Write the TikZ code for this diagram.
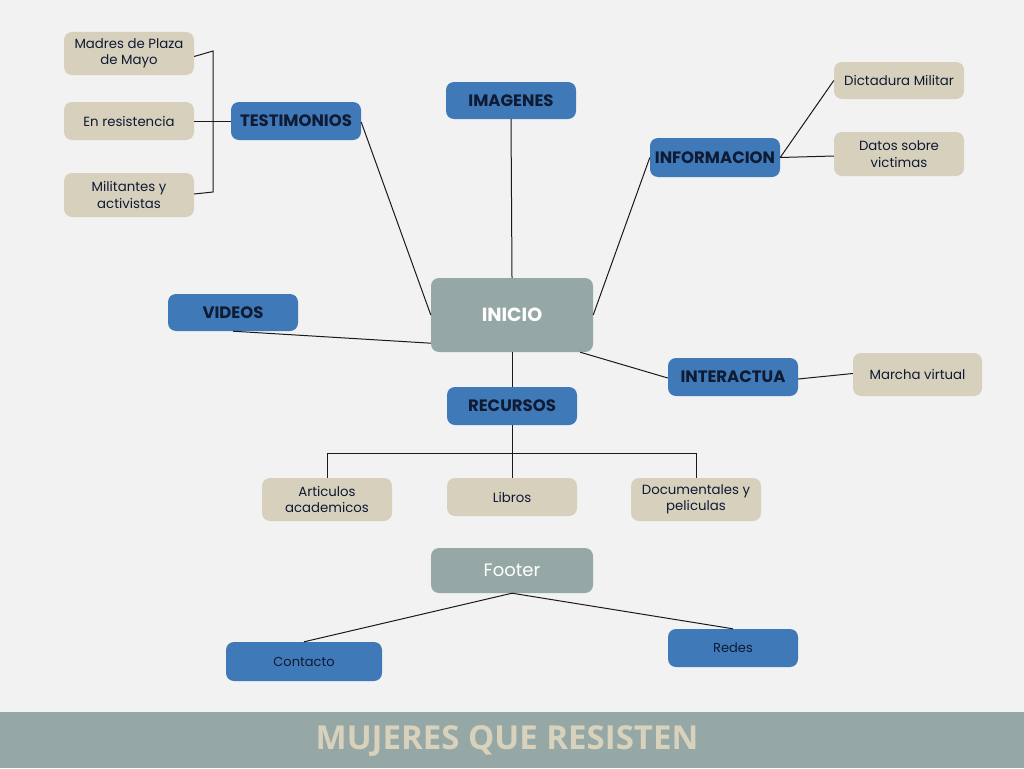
\documentclass[tikz,border=0pt]{standalone}
\usepackage{fontspec}
\setmainfont{Poppins}
\newfontfamily\titlefont{Open Sans}
\usetikzlibrary{calc}
\definecolor{bgc}{HTML}{F2F2F2}
\definecolor{bluec}{HTML}{3F79B8}
\definecolor{beigec}{HTML}{D6D0BC}
\definecolor{grayc}{HTML}{96A8A6}
\definecolor{navyc}{HTML}{0F1A33}
\definecolor{titlec}{HTML}{D8D1BC}
\definecolor{linec}{HTML}{1A1A1A}
\tikzset{
  box/.style={rectangle, rounded corners=8pt, inner sep=0pt, align=center},
  bluebox/.style={box, fill=bluec, text=navyc, font=\fontsize{16.5}{18}\selectfont\bfseries, minimum width=130pt, minimum height=38pt},
  beigebox/.style={box, fill=beigec, text=navyc, font=\fontsize{13.3}{16.5}\selectfont, minimum width=130pt, minimum height=38pt},
  graybox/.style={box, fill=grayc, text=white},
  smallblue/.style={box, fill=bluec, text=navyc, font=\fontsize{13}{15}\selectfont, minimum height=38pt},
  conn/.style={draw=linec, line width=1pt},
}
\begin{document}
\begin{tikzpicture}[x=1pt,y=-1pt]
\useasboundingbox (0,0) rectangle (1024,768);
\fill[bgc] (0,0) rectangle (1024,768);
\fill[grayc] (0,712) rectangle (1024,768);
\node[text=titlec, font=\fontsize{33}{35}\titlefont\bfseries] (title) at (507,741) {MUJERES QUE RESISTEN};

% main nodes
\node[graybox, minimum width=162pt, minimum height=74pt, font=\fontsize{19}{22}\selectfont\bfseries] (inicio) at (512,315) {INICIO};
\node[bluebox] (testi) at (296,121) {TESTIMONIOS};
\node[bluebox, minimum height=37pt] (imag) at (511,100.5) {IMAGENES};
\node[bluebox, minimum height=39pt] (info) at (715,157.5) {INFORMACION};
\node[bluebox, minimum height=37pt] (videos) at (233,312.5) {VIDEOS};
\node[bluebox] (inter) at (733,377) {INTERACTUA};
\node[bluebox] (recur) at (512,406) {RECURSOS};

% beige nodes
\node[beigebox, minimum height=43pt] (madres) at (129,53.5) {Madres de Plaza\\de Mayo};
\node[beigebox] (enres) at (129,121) {En resistencia};
\node[beigebox, minimum height=44pt] (milit) at (129,195) {Militantes y\\activistas};
\node[beigebox, minimum height=37pt] (dicta) at (899,80.5) {Dictadura Militar};
\node[beigebox, minimum height=44pt] (datos) at (899,154) {Datos sobre\\victimas};
\node[beigebox, minimum width=129pt, minimum height=43pt] (marcha) at (917.5,374.5) {Marcha virtual};
\node[beigebox, minimum height=43pt] (artic) at (327,499.5) {Articulos\\academicos};
\node[beigebox] (libros) at (512,497) {Libros};
\node[beigebox, minimum height=43pt] (docum) at (696,499.5) {Documentales y\\peliculas};

% footer
\node[graybox, minimum width=162pt, minimum height=45pt, font=\fontsize{18}{20}\selectfont] (footer) at (512,570.5) {Footer};
\node[smallblue, minimum width=156pt, minimum height=39pt] (contacto) at (304,661.5) {Contacto};
\node[smallblue, minimum width=130pt] (redes) at (733,648) {Redes};

% bracket
\coordinate (brtop) at (213,51);
\coordinate (brbot) at (213,192);
\draw[conn] ($(madres.east)+(0,3)$) -- (brtop) -- (brbot) -- ($(milit.east)+(0,-1)$);
\draw[conn] (enres.east) -- (testi.west);

% connectors
\draw[conn] ($(testi.east)+(0,1)$) -- (inicio.west);
\draw[conn] (imag.south) -- (inicio.north);
\draw[conn] (info.west) -- (inicio.east);
\draw[conn] (info.east) -- (dicta.west);
\draw[conn] (info.east) -- ($(datos.west)+(0,2)$);
\draw[conn] (videos.south) -- ($(inicio.south west)+(0,-9)$);
\draw[conn] ($(inicio.south east)+(-13,0)$) -- ($(inter.west)+(0,1)$);
\draw[conn] ($(inter.east)+(0,2)$) -- ($(marcha.west)+(0,-1)$);
\draw[conn] (inicio.south) -- (recur.north);
\draw[conn] (recur.south) -- (libros.north);
\coordinate (hb) at (512,453);
\draw[conn] (artic.north) -- (artic.north |- hb) -- (docum.north |- hb) -- (docum.north);
\draw[conn] (footer.south) -- (contacto.north);
\draw[conn] (footer.south) -- (redes.north);
\end{tikzpicture}
\end{document}
